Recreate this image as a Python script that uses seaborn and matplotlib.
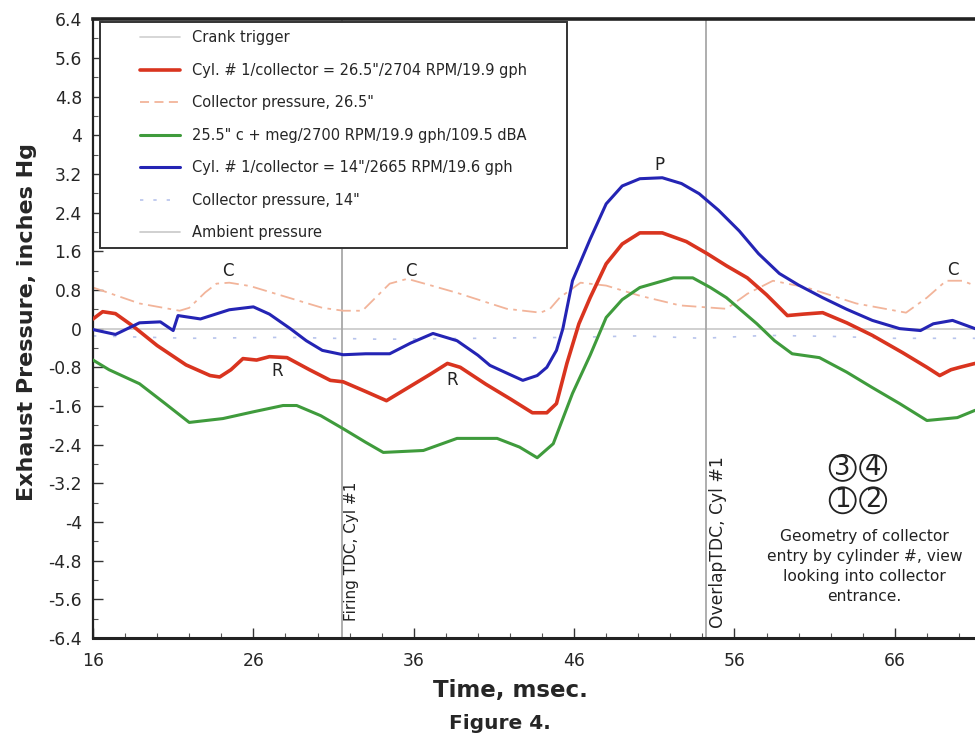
import numpy as np
import pandas as pd
import matplotlib
matplotlib.use("Agg")
import matplotlib.pyplot as plt
from matplotlib.lines import Line2D
from matplotlib.legend_handler import HandlerLine2D
import seaborn as sns

# ---------------- data ----------------
red_t = [16.0, 16.6, 17.4, 18.5, 20.0, 21.8, 23.3, 23.9, 24.6, 25.35, 26.2, 27.0, 28.1, 29.5, 30.8,
         31.6, 33.0, 34.3, 35.5, 37.0, 38.1, 38.9, 40.5, 42.0, 43.4, 44.3, 44.9, 45.55, 46.3, 47.0,
         48.0, 49.0, 50.1, 51.5, 53.0, 54.3, 55.5, 56.8, 58.0, 59.3, 60.3, 61.5, 63.0, 64.6, 66.5,
         68.0, 68.8, 69.5, 70.05, 71.0]
red_p = [0.2, 0.35, 0.31, 0.05, -0.35, -0.75, -0.97, -1.0, -0.85, -0.62, -0.65, -0.58, -0.6, -0.85, -1.07,
         -1.1, -1.3, -1.49, -1.25, -0.95, -0.72, -0.8, -1.15, -1.45, -1.74, -1.74, -1.55, -0.72, 0.1, 0.64,
         1.34, 1.75, 1.98, 1.98, 1.8, 1.55, 1.3, 1.05, 0.7, 0.27, 0.3, 0.33, 0.12, -0.14, -0.5,
         -0.8, -0.97, -0.85, -0.8, -0.72]

blue_t = [16.0, 17.4, 18.9, 20.2, 21.0, 21.3, 22.7, 24.5, 26.0, 27.0, 28.3, 29.3, 30.3, 31.6, 33.0,
          34.5, 35.8, 37.2, 38.7, 40.0, 40.75, 42.0, 42.8, 43.7, 44.3, 44.9, 45.3, 45.9, 47.0, 48.0,
          49.0, 50.1, 51.5, 52.7, 53.8, 55.0, 56.3, 57.5, 58.8, 60.0, 61.5, 63.0, 64.6, 66.3, 67.6,
          68.4, 69.6, 71.0]
blue_p = [-0.02, -0.12, 0.12, 0.14, -0.04, 0.27, 0.2, 0.39, 0.45, 0.3, 0.0, -0.25, -0.45, -0.54, -0.52,
          -0.52, -0.3, -0.1, -0.25, -0.55, -0.76, -0.95, -1.07, -0.97, -0.8, -0.45, 0.0, 0.99, 1.85, 2.58,
          2.95, 3.1, 3.12, 3.0, 2.79, 2.45, 2.02, 1.55, 1.14, 0.9, 0.64, 0.4, 0.17, 0.0, -0.04,
          0.1, 0.17, 0.0]

green_t = [16.0, 17.0, 18.9, 20.5, 22.0, 24.1, 26.0, 27.85, 28.7, 30.2, 31.6, 33.0, 34.1, 36.6, 38.7,
           41.2, 42.6, 43.7, 44.7, 45.9, 47.0, 48.0, 49.0, 50.1, 52.2, 53.4, 54.5, 55.5, 57.4, 58.5,
           59.6, 61.3, 63.0, 64.6, 66.3, 68.0, 69.9, 71.0]
green_p = [-0.65, -0.85, -1.14, -1.55, -1.94, -1.86, -1.72, -1.59, -1.59, -1.8, -2.07, -2.35, -2.56, -2.52, -2.27,
           -2.27, -2.45, -2.67, -2.38, -1.34, -0.55, 0.23, 0.6, 0.85, 1.05, 1.05, 0.85, 0.64, 0.1, -0.25,
           -0.52, -0.6, -0.9, -1.22, -1.55, -1.9, -1.84, -1.69]

coll265_t = [16.0, 17.5, 18.9, 21.4, 22.0, 23.0, 23.7, 24.5, 25.8, 27.2, 30.3, 31.6, 32.8, 33.8, 34.5,
             35.6, 37.0, 38.7, 41.8, 43.9, 44.5, 45.1, 46.4, 48.0, 50.1, 52.6, 55.5, 56.8, 58.4, 60.5,
             63.6, 66.7, 68.0, 69.2, 70.2, 71.0]
coll265_p = [0.85, 0.68, 0.52, 0.37, 0.43, 0.75, 0.93, 0.95, 0.88, 0.74, 0.43, 0.37, 0.37, 0.7, 0.93,
             1.03, 0.9, 0.74, 0.41, 0.33, 0.41, 0.64, 0.95, 0.89, 0.68, 0.48, 0.41, 0.72, 0.99, 0.85,
             0.52, 0.33, 0.64, 0.99, 0.99, 0.89]

coll14_t = [16, 22, 28, 34, 40, 46, 50, 54, 58, 62, 66, 71]
coll14_p = [-0.15, -0.2, -0.18, -0.22, -0.2, -0.18, -0.15, -0.2, -0.14, -0.16, -0.2, -0.2]

ambient_t = [16, 71]
ambient_p = [0.0, 0.0]

crank_times = [31.5, 54.2]

series_labels = [
    "Crank trigger",
    "Cyl. # 1/collector = 26.5\"/2704 RPM/19.9 gph",
    "Collector pressure, 26.5\"",
    "25.5\" c + meg/2700 RPM/19.9 gph/109.5 dBA",
    "Cyl. # 1/collector = 14\"/2665 RPM/19.6 gph",
    "Collector pressure, 14\"",
    "Ambient pressure",
]

y_ticks = [6.4, 5.6, 4.8, 4.0, 3.2, 2.4, 1.6, 0.8, 0.0, -0.8, -1.6, -2.4, -3.2, -4.0, -4.8, -5.6, -6.4]
y_tick_labels = ["6.4", "5.6", "4.8", "4", "3.2", "2.4", "1.6", "0.8", "0", "-0.8", "-1.6", "-2.4",
                 "-3.2", "-4", "-4.8", "-5.6", "-6.4"]
x_ticks = [16, 26, 36, 46, 56, 66]

# annotation letters (x, y, text)
letters_x = [24.4, 35.8, 69.6, 27.5, 38.4, 51.35]
letters_y = [1.2, 1.2, 1.22, -0.87, -1.07, 3.38]
letters_s = ["C", "C", "C", "R", "R", "P"]

# collector geometry diagram
circ_x = [62.75, 64.65, 62.75, 64.65]
circ_y = [-2.88, -2.88, -3.55, -3.55]
circ_s = ["3", "4", "1", "2"]
geom_text = "Geometry of collector\nentry by cylinder #, view\nlooking into collector\nentrance."

# ---------------- style ----------------
sns.set_theme(style="white")
plt.rcParams["font.family"] = ["DejaVu Sans"]

fig = plt.figure(figsize=(9.75, 7.36), dpi=100)
ax = fig.add_axes([0.0954, 0.133, 0.9046, 0.841])

c_red = "#d9341f"
c_blue = "#2424b4"
c_green = "#3f9b3c"
c_coll = "#f2b49a"
c_coll14 = "#b8c4ec"
c_amb = "#c8c8c8"
c_crank = "#a8a8a8"

ax.axhline(ambient_p[0], color=c_amb, lw=1.2, zorder=1)
for t in crank_times:
    ax.axvline(t, color=c_crank, lw=1.3, zorder=1)

def df(t, p):
    return pd.DataFrame({"t": t, "p": p})

sns.lineplot(data=df(coll14_t, coll14_p), x="t", y="p", ax=ax, color=c_coll14, lw=1.2,
             linestyle=(0, (2, 10)), zorder=2)
sns.lineplot(data=df(coll265_t, coll265_p), x="t", y="p", ax=ax, color=c_coll, lw=1.3,
             linestyle=(0, (8, 3, 2, 3)), zorder=2)
sns.lineplot(data=df(green_t, green_p), x="t", y="p", ax=ax, color=c_green, lw=2.2, zorder=3)
sns.lineplot(data=df(red_t, red_p), x="t", y="p", ax=ax, color=c_red, lw=2.6, zorder=4)
sns.lineplot(data=df(blue_t, blue_p), x="t", y="p", ax=ax, color=c_blue, lw=2.2, zorder=5)

ax.set_xlim(16, 71)
ax.set_ylim(-6.4, 6.4)
ax.set_xticks(x_ticks)
ax.set_xticklabels([str(v) for v in x_ticks], fontsize=12.3)
ax.set_xticks(np.arange(16, 72, 2), minor=True)
ax.set_yticks(y_ticks)
ax.set_yticklabels(y_tick_labels, fontsize=12.3)
ax.set_yticks(np.arange(-6.4, 6.41, 0.4), minor=True)
ax.tick_params(axis="both", which="major", direction="in", length=7, width=1.0, color="#333333")
ax.tick_params(axis="both", which="minor", direction="in", length=3.5, width=0.8, color="#555555")
ax.tick_params(axis="x", which="major", pad=10)
ax.tick_params(axis="y", which="major", pad=8)
ax.tick_params(axis="y", which="both", left=True)
ax.tick_params(axis="x", which="both", bottom=True)

for s in ["left", "bottom", "top"]:
    ax.spines[s].set_visible(True)
    ax.spines[s].set_color("#222222")
ax.spines["top"].set_linewidth(2.6)
ax.spines["left"].set_linewidth(1.6)
ax.spines["bottom"].set_linewidth(2.2)
ax.spines["right"].set_visible(False)

ax.set_xlabel("Time, msec.", fontsize=16.5, fontweight="bold")
ax.xaxis.set_label_coords(0.473, -0.066)
ax.set_ylabel("Exhaust Pressure, inches Hg", fontsize=16, fontweight="bold")
ax.yaxis.set_label_coords(-0.064, 0.51)

# legend
handles = [
    Line2D([], [], color="#d0d0d0", lw=1.2),
    Line2D([], [], color=c_red, lw=2.6),
    Line2D([], [], color=c_coll, lw=1.3, linestyle=(0, (5, 3))),
    Line2D([], [], color=c_green, lw=2.2),
    Line2D([], [], color=c_blue, lw=2.2),
    Line2D([], [], color=c_coll14, lw=1.2, linestyle=(0, (2, 6))),
    Line2D([], [], color=c_amb, lw=1.2),
]
leg = ax.legend(handles, series_labels, loc="upper left",
                bbox_to_anchor=(0.008, 0.5, 0.529, 0.495), mode="expand",
                handler_map={Line2D: HandlerLine2D(xpad=2.2)},
                fontsize=10.5, frameon=True, fancybox=False, framealpha=1.0, edgecolor="#333333",
                labelspacing=1.2, handlelength=4.9, handletextpad=0.85, borderpad=0.55,
                borderaxespad=0.0)
leg.get_frame().set_linewidth(1.4)
leg.set_zorder(10)

for x, y, s in zip(letters_x, letters_y, letters_s):
    ax.text(x, y, s, fontsize=12, ha="center", va="center", color="#222222", zorder=6)

# vertical TDC labels
ax.text(crank_times[0] + 0.65, -6.05, "Firing TDC, Cyl #1", rotation=90, fontsize=11,
        ha="center", va="bottom", color="#222222")
ax.text(crank_times[1] + 0.75, -6.2, "OverlapTDC, Cyl #1", rotation=90, fontsize=12.3,
        ha="center", va="bottom", color="#222222")

for x, y, s in zip(circ_x, circ_y, circ_s):
    ax.text(x, y, s, fontsize=18.5, ha="center", va="center", color="#222222",
            bbox=dict(boxstyle="circle,pad=0.0", fc="white", ec="#222222", lw=1.3))
ax.text(64.1, -4.15, geom_text, fontsize=11.2, ha="center", va="top", color="#222222",
        linespacing=1.42)

fig.text(0.513, 0.0175, "Figure 4.", fontsize=14.5, fontweight="bold", ha="center", va="center")

fig.savefig("out.png", dpi=100)
